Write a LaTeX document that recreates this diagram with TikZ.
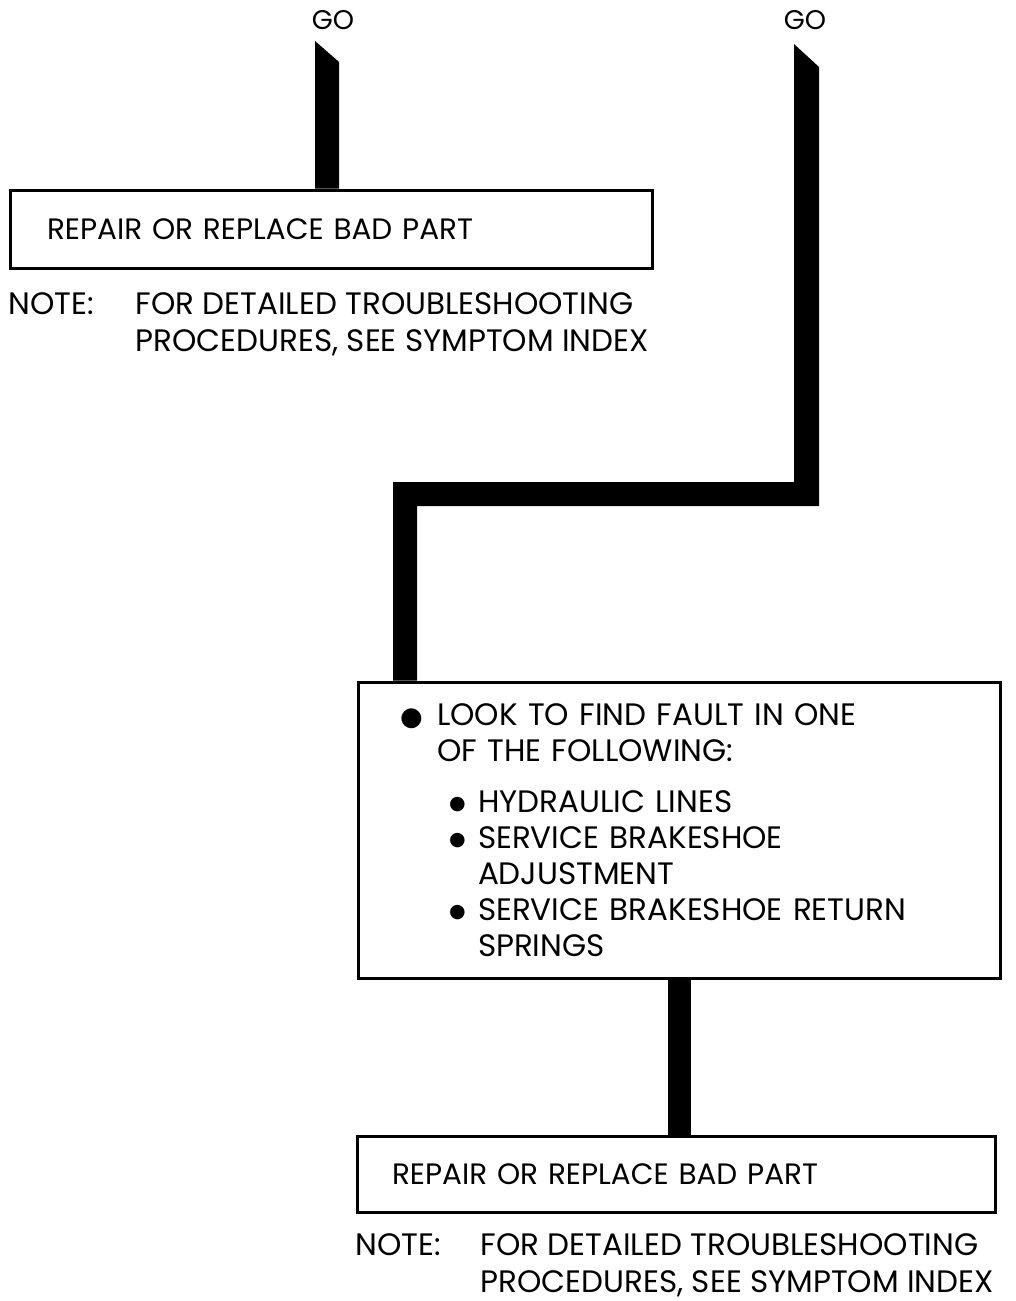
\documentclass[tikz,border=0pt]{standalone}
\usepackage{fontspec}
\setmainfont{Poppins}
\newfontfamily\dotfont{DejaVu Sans}
\usetikzlibrary{positioning,calc}

\newcommand{\bigdot}{{\dotfont\fontsize{26}{26}\selectfont ●}}
\newcommand{\smalldot}{\raisebox{2.5pt}{\dotfont\fontsize{19}{19}\selectfont ●}}

\begin{document}
\begin{tikzpicture}[x=1pt, y=-1pt,
    box/.style={draw, line width=3pt, rectangle, inner ysep=0pt, align=left,
                font=\fontsize{31}{36}\selectfont},
    partbox/.style={box, font=\fontsize{29.5}{36}\selectfont},
    note/.style={inner sep=0pt, align=left, font=\fontsize{31}{37}\selectfont},
    golabel/.style={inner sep=1pt, font=\fontsize{27}{27}\selectfont},
    flow/.style={fill=black}
  ]
  \useasboundingbox (0,0) rectangle (1016,1301);

  % left branch
  \node[golabel] (go1) at (333,20) {GO};
  \node[partbox, minimum width=642pt, minimum height=78pt, text width=568pt,
        inner xsep=37pt] (repair1) at (331,229) {REPAIR OR REPLACE BAD PART};
  \node[note, below=23pt of repair1.south west, anchor=north west] (note1)
    {\makebox[127pt][l]{NOTE:}FOR DETAILED TROUBLESHOOTING\\
     \hspace*{127pt}PROCEDURES, SEE SYMPTOM INDEX};

  % right branch
  \node[golabel] (go2) at (805,20) {GO};
  \node[box, minimum width=642pt, minimum height=296pt, text width=558pt,
        inner xsep=42pt] (fault) at (679,830)
    {\makebox[37pt][l]{\bigdot}LOOK TO FIND FAULT IN ONE\\
     \hspace*{37pt}OF THE FOLLOWING:\\[15pt]
     \hspace*{49pt}\makebox[29pt][l]{\smalldot}HYDRAULIC LINES\\
     \hspace*{49pt}\makebox[29pt][l]{\smalldot}SERVICE BRAKESHOE\\
     \hspace*{78pt}ADJUSTMENT\\
     \hspace*{49pt}\makebox[29pt][l]{\smalldot}SERVICE BRAKESHOE RETURN\\
     \hspace*{78pt}SPRINGS};
  \node[partbox, minimum width=638pt, minimum height=76pt, text width=568pt,
        inner xsep=35pt] (repair2) at (676,1174) {REPAIR OR REPLACE BAD PART};
  \node[note, below=20pt of repair2.south west, anchor=north west] (note2)
    {\makebox[125pt][l]{NOTE:}FOR DETAILED TROUBLESHOOTING\\
     \hspace*{125pt}PROCEDURES, SEE SYMPTOM INDEX};

  % heavy flow lines
  \coordinate (s1) at (315,41);
  \coordinate (j1) at (s1 |- repair1.north);
  \fill[flow] (s1) -- ++(24,21) -- ($(j1)+(24,0)$) -- (j1) -- cycle;

  \coordinate (s2) at (794,44);
  \coordinate (bend) at (393,482);
  \coordinate (drop) at (bend |- fault.north);
  \fill[flow] (s2) -- ++(25,23) |- ($(bend)+(24,24)$) -- ($(drop)+(24,0)$)
    -- (drop) -- (bend) -| (s2) -- cycle;

  \draw[line width=23pt] (fault.south) -- (fault.south |- repair2.north);
\end{tikzpicture}
\end{document}
